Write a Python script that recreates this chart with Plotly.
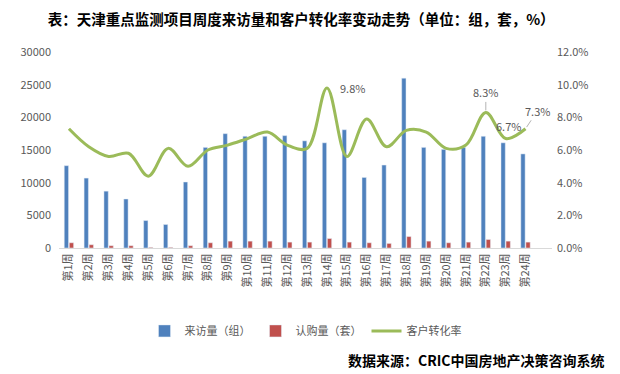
import plotly.graph_objects as go

weeks = [f"第{i}周" for i in range(1, 25)]
visits = [12600, 10700, 8700, 7500, 4200, 3600, 10100, 15400, 17500, 17100, 17100, 17200,
          16400, 16100, 18100, 10800, 12700, 26000, 15400, 15100, 15400, 17100, 16100, 14400]
subs = [800, 500, 350, 350, 100, 100, 350, 800, 1050, 1050, 1050, 900,
        900, 1450, 900, 800, 700, 1750, 1050, 800, 900, 1300, 1050, 900]
rate = [0.073, 0.062, 0.056, 0.058, 0.044, 0.061, 0.050, 0.060, 0.063, 0.067, 0.071, 0.063,
        0.061, 0.098, 0.056, 0.079, 0.062, 0.072, 0.071, 0.061, 0.063, 0.083, 0.067, 0.073]

FONT = "Noto Sans CJK SC"
GRAY = "#595959"

fig = go.Figure()
fig.add_trace(go.Bar(x=weeks, y=visits, name="来访量（组）", marker_color="#4F81BD"))
fig.add_trace(go.Bar(x=weeks, y=subs, name="认购量（套）", marker_color="#C0504D"))
fig.add_trace(go.Scatter(x=weeks, y=rate, name="客户转化率", yaxis="y2", mode="lines",
                         line=dict(color="#9BBB59", width=3, shape="spline", smoothing=1.0)))

# data labels
lab = {13: dict(xshift=26, yshift=0, arrow=False),
       21: dict(ax=0, ay=-20, arrow=True),
       22: dict(xshift=3, yshift=13, arrow=False),
       23: dict(ax=12, ay=-18, arrow=True)}
for i, spec in lab.items():
    if spec["arrow"]:
        fig.add_annotation(x=weeks[i], y=rate[i], yref="y2", text=f"{rate[i]*100:.1f}%",
                           showarrow=True, arrowhead=0, arrowwidth=0.8, arrowcolor="#A0A0A0",
                           ax=spec["ax"], ay=spec["ay"], standoff=2,
                           font=dict(family=FONT, size=11, color=GRAY))
    else:
        fig.add_annotation(x=weeks[i], y=rate[i], yref="y2", text=f"{rate[i]*100:.1f}%",
                           showarrow=False, xshift=spec["xshift"], yshift=spec["yshift"],
                           font=dict(family=FONT, size=11, color=GRAY))

fig.add_annotation(xref="paper", yref="paper", x=1.111, y=-0.571, xanchor="right", yanchor="middle",
                   text="<b>数据来源：CRIC中国房地产决策咨询系统</b>", showarrow=False,
                   font=dict(family=FONT, size=14, color="#000000"))

fig.update_layout(
    width=612, height=366,
    margin=dict(l=49, r=68, t=44, b=126),
    paper_bgcolor="white", plot_bgcolor="white",
    title=dict(text="<b>表：天津重点监测项目周度来访量和客户转化率变动走势（单位：组，套，%）</b>",
               x=0.479, xanchor="center", y=0.967, yanchor="middle", xref="container",
               font=dict(family=FONT, size=14.5, color="#000000")),
    barmode="group", bargap=0.49, bargroupgap=0.15,
    xaxis=dict(tickangle=-90, tickfont=dict(family=FONT, size=11, color=GRAY),
               showline=True, linecolor="#D9D9D9", linewidth=1, ticks="", showgrid=False),
    yaxis=dict(range=[0, 30000], dtick=5000, showgrid=False, zeroline=False,
               tickfont=dict(family=FONT, size=11, color=GRAY), tickformat="d",
               ticklabelstandoff=7),
    yaxis2=dict(range=[0, 0.12], dtick=0.02, overlaying="y", side="right", showgrid=False,
                zeroline=False, tickformat=".1%", tickfont=dict(family=FONT, size=11, color=GRAY),
                ticklabelstandoff=4),
    legend=dict(orientation="h", x=0.5, xanchor="center", y=-0.423, yanchor="middle",
                font=dict(family=FONT, size=11, color=GRAY), traceorder="normal"),
    showlegend=True,
)

fig.write_html("out.html")
